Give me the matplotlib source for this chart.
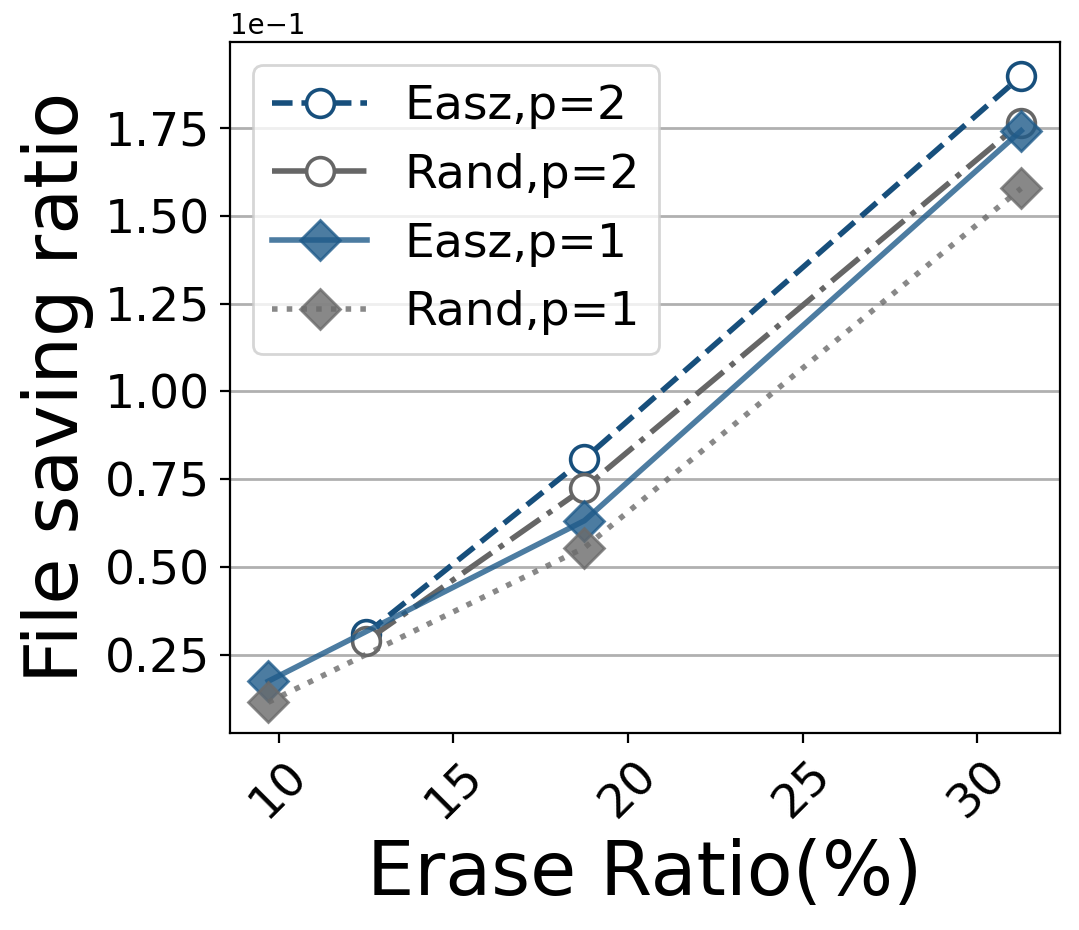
import matplotlib
matplotlib.use("Agg")
import matplotlib.pyplot as plt

# erase ratio (%) for each series
x_p2 = [12.5, 18.75, 31.25]
x_p1 = [9.7, 18.75, 31.25]

# file saving ratio
easz_p2 = [0.0310, 0.0808, 0.1898]
rand_p2 = [0.0290, 0.0725, 0.1765]
easz_p1 = [0.0175, 0.0632, 0.1742]
rand_p1 = [0.0115, 0.0555, 0.1578]

labels = ["Easz,p=2", "Rand,p=2", "Easz,p=1", "Rand,p=1"]

fig = plt.figure(figsize=(1079 / 200, 930 / 200), dpi=200)
ax = fig.add_axes([0.213, 0.212, 0.769, 0.743])

ax.plot(x_p2, easz_p2, linestyle="--", color="#174f7c", linewidth=2,
        marker="o", markersize=10, markerfacecolor="white",
        markeredgecolor="#174f7c", markeredgewidth=1.3, label=labels[0])
ax.plot(x_p2, rand_p2, linestyle="-.", color="#666666", linewidth=2,
        marker="o", markersize=10, markerfacecolor="white",
        markeredgecolor="#666666", markeredgewidth=1.3, label=labels[1])
ax.plot(x_p1, easz_p1, linestyle="-", color="#1f5b8a", linewidth=2,
        marker="D", markersize=10, alpha=0.8, label=labels[2])
ax.plot(x_p1, rand_p1, linestyle=":", color="#6b6b6b", linewidth=2,
        marker="D", markersize=10, alpha=0.8, label=labels[3])

ax.set_xlim(8.6, 32.35)
ax.set_ylim(0.0028, 0.1995)
ax.set_yticks([0.025, 0.05, 0.075, 0.1, 0.125, 0.15, 0.175])
ax.ticklabel_format(style="sci", axis="y", scilimits=(0, 0))
ax.grid(axis="y", color="#b0b0b0", linewidth=1)
ax.set_axisbelow(True)

ax.tick_params(axis="both", labelsize=17)
plt.setp(ax.get_xticklabels(), rotation=45)

ax.set_xlabel("Erase Ratio(%)", fontsize=27)
ax.set_ylabel("File saving ratio", fontsize=27)
ax.legend(loc="upper left", fontsize=17)

fig.savefig("out.png", dpi=200)
